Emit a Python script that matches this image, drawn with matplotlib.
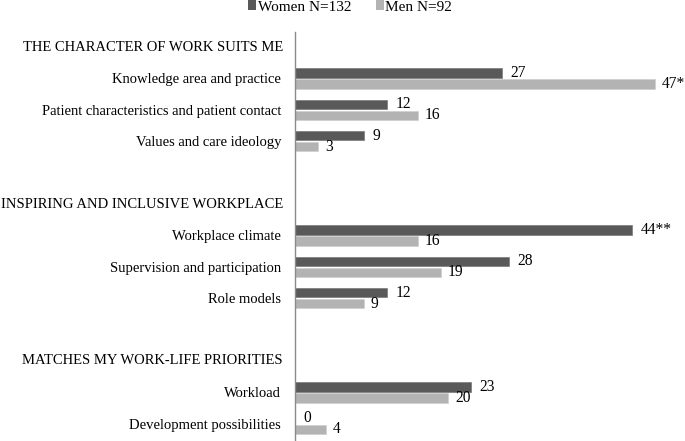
import numpy as np
import matplotlib.pyplot as plt
from matplotlib.patches import Patch
from matplotlib.transforms import blended_transform_factory

plt.rcParams['font.family'] = ['Liberation Serif', 'DejaVu Serif']
plt.rcParams['font.size'] = 10

groups = ["THE CHARACTER OF WORK SUITS ME",
          "INSPIRING AND INCLUSIVE WORKPLACE",
          "MATCHES MY WORK-LIFE PRIORITIES"]
categories = [
    ["Knowledge area and practice",
     "Patient characteristics and patient contact",
     "Values and care ideology"],
    ["Workplace climate",
     "Supervision and participation",
     "Role models"],
    ["Workload",
     "Development possibilities"],
]
women = [27, 12, 9, 44, 28, 12, 23, 0]
men = [47, 16, 3, 16, 19, 9, 20, 4]
women_labels = ["27", "12", "9", "44**", "28", "12", "23", "0"]
men_labels = ["47*", "16", "3", "16", "19", "9", "20", "4"]

# row positions: header, rows, blank gap, next header ...
header_pos = []
row_pos = []
row_names = []
p = 0
for g, cats in zip(groups, categories):
    header_pos.append(p)
    p += 1
    for c in cats:
        row_pos.append(p)
        row_names.append(c)
        p += 1
    p += 1
row_pos = np.array(row_pos, dtype=float)

dark = "#595959"
light = "#b3b3b3"
h = 0.30
off = 0.175

fig = plt.figure(figsize=(6.85, 4.41), dpi=100)
ax = fig.add_axes([295 / 685, 0.0, 390 / 685, 1 - 32 / 441])

bw = ax.barh(row_pos - off, women, height=h, color=dark, edgecolor="#7a7a7a", linewidth=0.5)
bm = ax.barh(row_pos + off, men, height=h, color=light, edgecolor="#cfcfcf", linewidth=0.5)
ax.bar_label(bw, labels=women_labels, padding=6, fontsize=11.2)
ax.bar_label(bm, labels=men_labels, padding=5, fontsize=11.2)

ax.set_xlim(0, 390 / 7.66)
ax.set_ylim(12.55, -0.48)
ax.set_yticks(row_pos)
ax.set_yticklabels(row_names, fontsize=10.5)
ax.tick_params(axis="y", length=0, pad=10)
ax.set_xticks([])

trans = blended_transform_factory(fig.transFigure, ax.transData)
for g, hp in zip(groups, header_pos):
    ax.text(283 / 685, hp, g, transform=trans, ha="right", va="center", fontsize=10.5)

for s in ["top", "right", "bottom"]:
    ax.spines[s].set_visible(False)
ax.spines["left"].set_color("#8c8c8c")
ax.spines["left"].set_linewidth(1.0)

handles = [Patch(facecolor=dark, label="Women N=132"),
           Patch(facecolor=light, label="Men N=92")]
fig.legend(handles=handles, loc="center", bbox_to_anchor=(350 / 685, 1 - 7 / 441),
           ncol=2, frameon=False, handlelength=0.55, handleheight=0.55,
           handletextpad=0.1, columnspacing=1.6, fontsize=11)

fig.savefig("out.png", dpi=100)
